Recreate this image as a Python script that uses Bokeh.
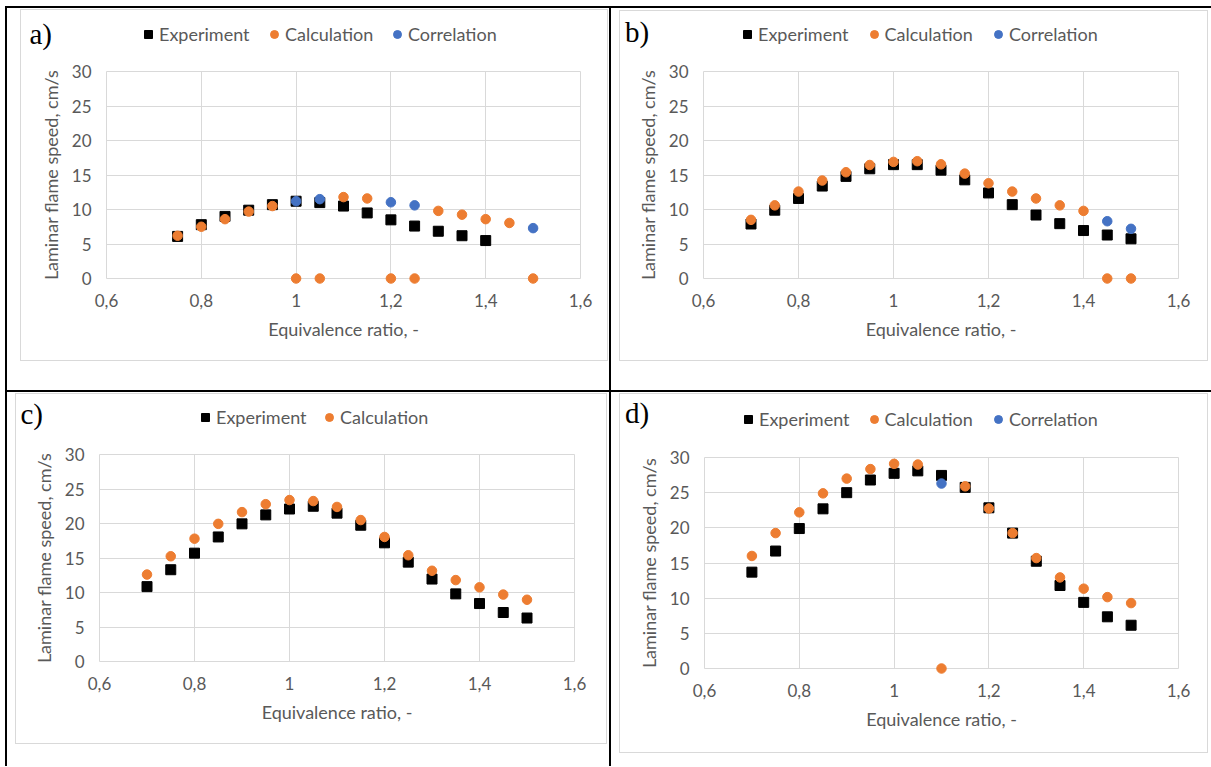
from bokeh.plotting import figure
from bokeh.models import Range1d, FixedTicker, Legend, LegendItem, Label, Div
from bokeh.layouts import row, column
from bokeh.embed import file_html
from bokeh.resources import INLINE

# ---------------- data ----------------
x_ticks = [0.6, 0.8, 1.0, 1.2, 1.4, 1.6]
x_tick_labels = ["0,6", "0,8", "1", "1,2", "1,4", "1,6"]
y_ticks = [0, 5, 10, 15, 20, 25, 30]

# panel a
a_exp_phi = [0.75, 0.8, 0.85, 0.9, 0.95, 1.0, 1.05, 1.1, 1.15, 1.2, 1.25, 1.3, 1.35, 1.4]
a_exp_su = [6.1, 7.8, 9.0, 9.9, 10.7, 11.2, 11.0, 10.5, 9.5, 8.5, 7.6, 6.85, 6.2, 5.5]
a_calc_phi = [0.75, 0.8, 0.85, 0.9, 0.95, 1.0, 1.05, 1.1, 1.15, 1.2, 1.25, 1.3, 1.35, 1.4, 1.45, 1.5]
a_calc_su = [6.2, 7.5, 8.6, 9.7, 10.5, 0, 0, 11.8, 11.6, 0, 0, 9.8, 9.25, 8.6, 8.05, 0]
a_corr_phi = [1.0, 1.05, 1.2, 1.25, 1.5]
a_corr_su = [11.2, 11.5, 11.05, 10.6, 7.3]

# panel b
b_exp_phi = [0.7, 0.75, 0.8, 0.85, 0.9, 0.95, 1.0, 1.05, 1.1, 1.15, 1.2, 1.25, 1.3, 1.35, 1.4, 1.45, 1.5]
b_exp_su = [7.9, 9.9, 11.6, 13.4, 14.8, 15.9, 16.5, 16.5, 15.7, 14.3, 12.4, 10.7, 9.2, 7.95, 6.95, 6.3, 5.75]
b_calc_phi = [0.7, 0.75, 0.8, 0.85, 0.9, 0.95, 1.0, 1.05, 1.1, 1.15, 1.2, 1.25, 1.3, 1.35, 1.4, 1.45, 1.5]
b_calc_su = [8.5, 10.6, 12.6, 14.2, 15.4, 16.45, 16.9, 17.0, 16.55, 15.2, 13.8, 12.6, 11.6, 10.6, 9.8, 0, 0]
b_corr_phi = [1.45, 1.5]
b_corr_su = [8.3, 7.2]

# panel c
c_exp_phi = [0.7, 0.75, 0.8, 0.85, 0.9, 0.95, 1.0, 1.05, 1.1, 1.15, 1.2, 1.25, 1.3, 1.35, 1.4, 1.45, 1.5]
c_exp_su = [10.85, 13.3, 15.7, 18.05, 19.95, 21.25, 22.1, 22.5, 21.5, 19.75, 17.2, 14.4, 11.95, 9.8, 8.4, 7.1, 6.3]
c_calc_phi = [0.7, 0.75, 0.8, 0.85, 0.9, 0.95, 1.0, 1.05, 1.1, 1.15, 1.2, 1.25, 1.3, 1.35, 1.4, 1.45, 1.5]
c_calc_su = [12.6, 15.25, 17.8, 19.95, 21.65, 22.8, 23.4, 23.25, 22.4, 20.5, 18.05, 15.4, 13.15, 11.8, 10.75, 9.7, 8.95]

# panel d
d_exp_phi = [0.7, 0.75, 0.8, 0.85, 0.9, 0.95, 1.0, 1.05, 1.1, 1.15, 1.2, 1.25, 1.3, 1.35, 1.4, 1.45, 1.5]
d_exp_su = [13.7, 16.7, 19.9, 22.7, 25.0, 26.8, 27.75, 28.1, 27.45, 25.75, 22.85, 19.25, 15.25, 11.8, 9.4, 7.35, 6.15]
d_calc_phi = [0.7, 0.75, 0.8, 0.85, 0.9, 0.95, 1.0, 1.05, 1.1, 1.15, 1.2, 1.25, 1.3, 1.35, 1.4, 1.45, 1.5]
d_calc_su = [16.0, 19.25, 22.2, 24.9, 27.0, 28.35, 29.1, 29.0, 0, 25.9, 22.75, 19.25, 15.7, 12.95, 11.35, 10.15, 9.3]
d_corr_phi = [1.1]
d_corr_su = [26.3]

series_names = ["Experiment", "Calculation", "Correlation"]

# ---------------- style ----------------
BLACK = "#000000"
ORANGE = "#ED7D31"
BLUE = "#4472C4"
GRID = "#d9d9d9"
TXT = "#595959"
FONT = "Lato"
FS_TICK = "17px"
FS = "18px"
MARKERS = [("square", 10, BLACK), ("circle", 9.5, ORANGE), ("circle", 9.5, BLUE)]


def spacer(w, h, color=None):
    kw = dict(width=w, height=h, margin=0, text="")
    if color:
        kw["styles"] = {"background-color": color}
    return Div(**kw)


def no_align(fig):
    if "frame_align" in fig.properties():
        fig.frame_align = False


def make_panel(tag, W, H, bl, br, bt, bb, series, legend_x, legend_y, tag_xy):
    Wi, Hi = W - 2, H - 2
    Ht = bt - 11
    Hm = Hi - Ht

    # ---- strip above the plot: panel tag and legend ----
    top = figure(width=Wi, height=Ht, x_range=Range1d(0, Wi), y_range=Range1d(0, Ht),
                 x_axis_type=None, y_axis_type=None, toolbar_location=None,
                 output_backend="svg", margin=0, min_border=0,
                 min_border_left=0, min_border_right=0, min_border_top=0, min_border_bottom=0)
    top.outline_line_color = None
    top.background_fill_color = "white"
    top.border_fill_color = "white"
    top.extra_y_ranges = {"hidden": Range1d(1000, 1001)}
    no_align(top)

    # ---- main chart ----
    p = figure(width=Wi, height=Hm, x_range=Range1d(0.6, 1.6), y_range=Range1d(0, 30),
               toolbar_location=None, output_backend="svg", margin=0,
               min_border_left=bl - 1, min_border_right=br - 1, min_border_top=10,
               min_border_bottom=bb - 1)
    no_align(p)
    p.background_fill_color = "white"
    p.border_fill_color = "white"
    p.outline_line_color = GRID

    p.xaxis.ticker = FixedTicker(ticks=x_ticks)
    p.xaxis.major_label_overrides = dict(zip(x_ticks, x_tick_labels))
    p.yaxis.ticker = FixedTicker(ticks=y_ticks)
    p.xaxis.axis_label = "Equivalence ratio, -"
    p.yaxis.axis_label = "Laminar flame speed, cm/s"
    for ax in (p.xaxis, p.yaxis):
        ax.axis_line_color = None
        ax.major_tick_line_color = None
        ax.minor_tick_line_color = None
        ax.major_tick_out = 0
        ax.major_tick_in = 0
        ax.major_label_text_font = FONT
        ax.major_label_text_font_size = FS_TICK
        ax.major_label_text_color = TXT
        ax.axis_label_text_font = FONT
        ax.axis_label_text_font_size = FS
        ax.axis_label_text_color = TXT
        ax.axis_label_text_font_style = "normal"
    p.xaxis.major_label_standoff = 15
    p.xaxis.axis_label_standoff = 8
    p.yaxis.major_label_standoff = 15
    p.yaxis.axis_label_standoff = 7
    p.xgrid.grid_line_color = GRID
    p.ygrid.grid_line_color = GRID

    for (phi, su), name, (mk, sz, col), cx in zip(series, series_names, MARKERS, legend_x):
        p.scatter(phi, su, marker=mk, size=sz, color=col, level="overlay")
        # legend key (same series, mapped outside the strip's visible range)
        kr = top.scatter(phi, su, marker=mk, size=sz, color=col, y_range_name="hidden")
        leg = Legend(items=[LegendItem(label=name, renderers=[kr])],
                     location=(cx - 1 - 10, Ht - (legend_y - 1) - 10),
                     orientation="horizontal", padding=0, margin=0, spacing=0,
                     glyph_width=20, glyph_height=20, label_standoff=1,
                     border_line_color=None, background_fill_alpha=0,
                     label_text_font=FONT, label_text_font_size=FS, label_text_color=TXT)
        top.add_layout(leg)

    top.add_layout(Label(x=tag_xy[0] - 1, y=Ht - (tag_xy[1] - 1), text=tag,
                         text_font="Liberation Serif", text_font_size="29px",
                         text_color=BLACK, text_baseline="middle", text_align="left"))

    # chart-area border (light grey box)
    return column(spacer(W, 1, GRID),
                  row(spacer(1, Hi, GRID), column(row(top), p), spacer(1, Hi, GRID)),
                  spacer(W, 1, GRID))


chartA = make_panel("a)", 588, 352, 86, 28, 62, 83,
                    [(a_exp_phi, a_exp_su), (a_calc_phi, a_calc_su), (a_corr_phi, a_corr_su)],
                    [128, 254, 377], 26, (9, 24))
chartB = make_panel("b)", 589, 351, 84, 30, 61, 83,
                    [(b_exp_phi, b_exp_su), (b_calc_phi, b_calc_su), (b_corr_phi, b_corr_su)],
                    [128, 254.5, 379], 25, (5.5, 21))
chartC = make_panel("c)", 592, 351, 84, 33, 61, 83,
                    [(c_exp_phi, c_exp_su), (c_calc_phi, c_calc_su)],
                    [190, 314], 25, (5, 20))
chartD = make_panel("d)", 589, 360, 85, 30, 64, 85,
                    [(d_exp_phi, d_exp_su), (d_calc_phi, d_calc_su), (d_corr_phi, d_corr_su)],
                    [129, 254.5, 379], 27, (5.5, 19))

cellA = column(spacer(602, 1), row(spacer(13, 352), chartA, spacer(1, 352)), spacer(602, 29))
cellB = column(spacer(600, 2), row(spacer(8, 351), chartB, spacer(3, 351)), spacer(600, 29))
cellC = column(spacer(602, 1), row(spacer(8, 351), chartC, spacer(2, 351)), spacer(602, 22))
cellD = column(spacer(600, 1), row(spacer(8, 360), chartD, spacer(3, 360)), spacer(600, 13))

grid = column(
    spacer(1206, 2, BLACK),
    row(spacer(2, 382, BLACK), cellA, spacer(2, 382, BLACK), cellB),
    spacer(1206, 2, BLACK),
    row(spacer(2, 374, BLACK), cellC, spacer(2, 374, BLACK), cellD),
)
root = column(spacer(1211, 6), row(spacer(5, 760), grid))

open("out.html", "w").write(file_html(root, INLINE))
